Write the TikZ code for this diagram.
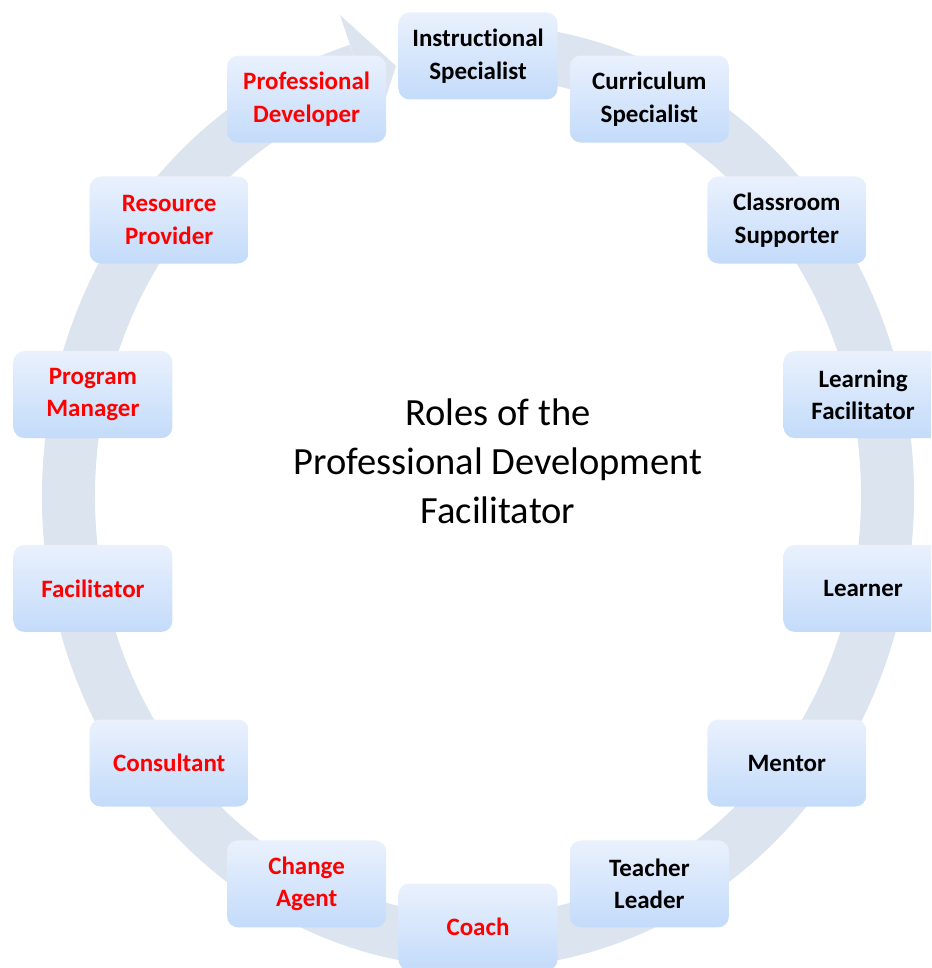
\documentclass[tikz,border=0pt]{standalone}
\usepackage{fontspec}
\setmainfont[Ligatures=NoCommon]{Carlito}
\definecolor{ringfill}{HTML}{DBE4EF}
\definecolor{boxtop}{HTML}{EAF1FD}
\definecolor{boxbot}{HTML}{C3DBFA}
\definecolor{rolered}{HTML}{FF0000}
\begin{document}
\begin{tikzpicture}[x=1pt,y=-1pt,
  ring/.style={draw=ringfill, line width=53pt},
  ringhead/.style={fill=ringfill, draw=none},
  role/.style={rounded corners=11pt, minimum width=159pt, minimum height=87pt,
    top color=boxtop, bottom color=boxbot, draw=none, align=center,
    inner sep=0pt, font=\fontsize{25}{32.5}\selectfont\bfseries},
  redrole/.style={role, text=rolered},
  blackrole/.style={role, text=black},
  title/.style={align=center, text=black, font=\fontsize{38.5}{49}\selectfont}]

\useasboundingbox (0,0) rectangle (931,968);
\clip (0,0) rectangle (931,968);

% circular arrow behind the roles (clockwise)
\draw[ring] (478,496) ++(-82:409.5 and 445.5)
  arc[start angle=-82, end angle=253, x radius=409.5, y radius=445.5];
\coordinate (headout) at (340,15);
\coordinate (headtip) at (396,66);
\coordinate (headin) at (377,125);
\fill[ringhead] (headout) -- (headtip) -- (headin) -- cycle;

% roles placed around the cycle
\node[blackrole] (instr)   at (478,56)      {Instructional\\Specialist};
\node[blackrole] (curric)  at (649.4,99.1)  {Curriculum\\Specialist};
\node[blackrole] (class)   at (786.8,220.0) {Classroom\\Supporter};
\node[blackrole] (learnf)  at (863.1,394.6) {Learning\\Facilitator};
\node[blackrole] (learner) at (863.1,588.4) {Learner};
\node[blackrole] (mentor)  at (786.8,763.0) {Mentor};
\node[blackrole] (teacher) at (649.4,883.9) {Teacher\\Leader};
\node[redrole]   (coach)   at (478,927)     {Coach};
\node[redrole]   (change)  at (306.6,883.9) {Change\\Agent};
\node[redrole]   (consult) at (169.2,763.0) {Consultant};
\node[redrole]   (facil)   at (92.9,588.4)  {Facilitator};
\node[redrole]   (program) at (92.9,394.6)  {Program\\Manager};
\node[redrole]   (resource) at (169.2,220.0) {Resource\\Provider};
\node[redrole]   (profdev) at (306.6,99.1)  {Professional\\Developer};

% central title
\node[title] (heading) at (498,461) {Roles of the\\Professional Development\\Facilitator};
\end{tikzpicture}
\end{document}
